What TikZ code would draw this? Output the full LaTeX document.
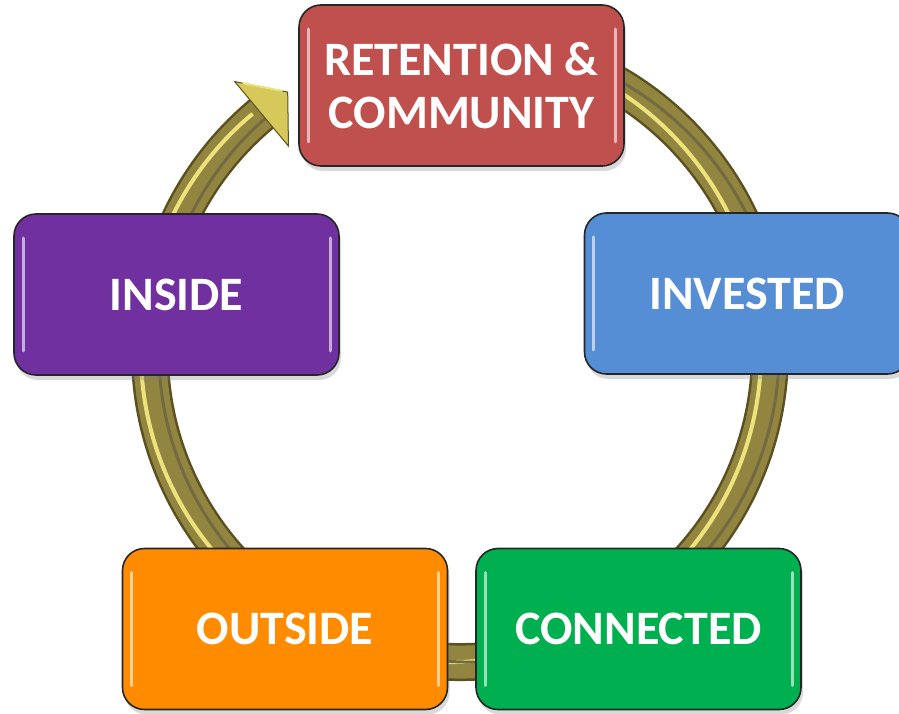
\documentclass[tikz,border=0pt]{standalone}
\usepackage{fontspec}
\setmainfont{Carlito}
\usetikzlibrary{shadows,calc}
\definecolor{cred}{HTML}{C0504D}
\definecolor{cblue}{HTML}{558ED5}
\definecolor{cgreen}{HTML}{00B050}
\definecolor{corange}{HTML}{FF8C00}
\definecolor{cpurple}{HTML}{7030A0}
\definecolor{olvdark}{HTML}{5A5020}
\definecolor{olvbody}{HTML}{918540}
\definecolor{olvlight}{HTML}{EEE27C}
\definecolor{headfill}{HTML}{D6C95A}
\newcommand\boxfont{\bfseries\fontsize{48}{53}\selectfont}
\begin{document}
\begin{tikzpicture}[x=1pt,y=1pt,
  stagebox/.style={rounded corners=22pt, minimum width=325pt, minimum height=161pt,
    draw=black!85, line width=1.6pt, fill=#1, text=white, font=\boxfont, align=center,
    drop shadow={shadow xshift=2pt, shadow yshift=-5pt, opacity=0.3},
    path picture={
      \draw[white, opacity=0.6, line width=3pt, line cap=round]
        ([xshift=9pt,yshift=-24pt]path picture bounding box.north west) --
        ([xshift=9pt,yshift=24pt]path picture bounding box.south west);
      \draw[white, opacity=0.6, line width=3pt, line cap=round]
        ([xshift=-9pt,yshift=-24pt]path picture bounding box.north east) --
        ([xshift=-9pt,yshift=24pt]path picture bounding box.south east);
    }},
  ringdark/.style={olvdark, line width=38pt},
  ringbody/.style={olvbody, line width=33pt},
  ringhi/.style={olvlight, line width=4pt},
  ringlo/.style={olvdark!85, line width=3pt}]
\useasboundingbox (0,0) rectangle (899,713);
\coordinate (C) at (460,361);
\coordinate (Cl) at (451,361);
\coordinate (Cr) at (469,361);
\coordinate (hb) at ($(C)+(129.8:310)$);
\coordinate (tip) at ($(hb)+(39.8:34)$);
\coordinate (h1) at ($(C)+(129.8:352)$);
\coordinate (h2) at ($(C)+(129.8:268)$);
% ring
\draw[ringdark] ($(C)+(80:310)$) arc[start angle=80, end angle=-230.2, radius=310];
\draw[ringbody] ($(C)+(80:310)$) arc[start angle=80, end angle=-230.2, radius=310];
\draw[ringhi] ($(Cl)+(80:310)$) arc[start angle=80, end angle=-230.2, radius=310];
\draw[ringlo] ($(Cr)+(80:310)$) arc[start angle=80, end angle=-230.2, radius=310];
% arrow head
\filldraw[fill=headfill, draw=olvdark, line width=1pt, line join=miter] (h1) -- (tip) -- (h2) -- cycle;
\draw[olvlight, line width=2pt] ($(h1)!0.15!(tip)$) -- ($(tip)!0.1!(h1)$);
% boxes
\node[stagebox=cred] (ret) at (461.5,627.5) {RETENTION \&\\COMMUNITY};
\node[stagebox=cblue] (inv) at (747,419.5) {INVESTED};
\node[stagebox=cgreen] (con) at (638.5,84) {CONNECTED};
\node[stagebox=corange] (out) at (285,84) {OUTSIDE};
\node[stagebox=cpurple] (ins) at (176.5,418.5) {INSIDE};
\end{tikzpicture}
\end{document}
